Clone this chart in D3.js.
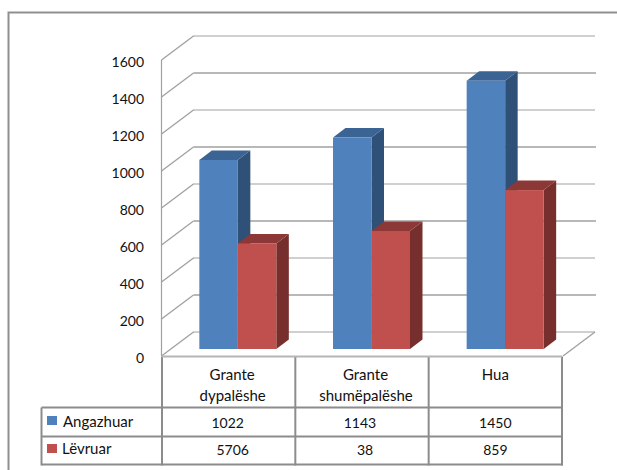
<!DOCTYPE html>
<html><head><meta charset="utf-8">
<script src="https://cdn.jsdelivr.net/npm/d3@7"></script>
<style>html,body{margin:0;padding:0;background:#fff}svg{display:block}text{font-family:Lato,"Open Sans",sans-serif;font-size:14px;fill:#111}text.w{font-size:15px}</style>
</head><body><svg id="c" width="617" height="470"></svg>
<script>
const categories = ["Grante dypalëshe","Grante shumëpalëshe","Hua"];
const catLines = [["Grante","dypalëshe"],["Grante","shumëpalëshe"],["Hua"]];
const seriesNames = ["Angazhuar","Lëvruar"];
const angazhuar = [1022,1143,1450];
const levruar = [570.6,638,859];
const tableAngazhuar = ["1022","1143","1450"];
const tableLevruar = ["5706","38","859"];
const yTicks = [0,200,400,600,800,1000,1200,1400,1600];
const labelNudgeCat = [4,4,0], valueNudgeA = [-1,-2,0], valueNudgeB = [4,3,0];

const svg = d3.select("#c");
const GR = "#a0a0a0", TB = "#8c8c8c";
const DX = 32, DY = -24, BDX = 12.5, BDY = -9.5;
const y = d3.scaleLinear().domain([0,1600]).range([356,60]);
const wall = {l:161.5, r:563};
const barBase = 349;
const yb = v => y(v) - (356 - barBase);
const xBand = d3.scaleBand().domain(categories).range([171,572]).paddingInner(.424).paddingOuter(.212);
const xSub = d3.scaleBand().domain(seriesNames).range([0,xBand.bandwidth()]);
const colors = d3.scaleOrdinal().domain(seriesNames).range(["#4f81bd","#c0504d"]);
const tops = d3.scaleOrdinal().domain(seriesNames).range(["#3b6494","#8c3836"]);
const sides = d3.scaleOrdinal().domain(seriesNames).range(["#2f5077","#772f2d"]);

// outer frame
svg.append("path").attr("d","M8.5,470V12.5H617").attr("fill","none").attr("stroke","#8f8f8f").attr("stroke-width",2);

// walls and gridlines
const g = svg.append("g");
yTicks.forEach((t,i)=>{
  const yy = y(t);
  const dotted = i%2===0;
  g.append("line").attr("x1",wall.l+DX).attr("x2",wall.r+DX-(dotted?0:-1)).attr("y1",yy+DY).attr("y2",yy+DY)
    .attr("stroke",GR).attr("stroke-width",dotted?2:1.5).attr("stroke-dasharray",dotted?"1 1":null);
  g.append("line").attr("x1",wall.l).attr("x2",wall.l+DX).attr("y1",yy).attr("y2",yy+DY)
    .attr("stroke",GR).attr("stroke-width",1.3);
});
g.append("line").attr("x1",wall.l).attr("x2",wall.l).attr("y1",y(1600)).attr("y2",y(0)).attr("stroke",GR).attr("stroke-width",1.2);
g.append("line").attr("x1",wall.r).attr("x2",wall.r+DX).attr("y1",y(0)).attr("y2",y(0)+DY)
  .attr("stroke",GR).attr("stroke-width",1.3);

// y axis
const ax = svg.append("g").attr("transform","translate(144,2)").call(d3.axisLeft(y).tickValues(yTicks).tickSize(0).tickPadding(0).tickFormat(d3.format("d")));
ax.select(".domain").remove();
ax.selectAll("text").attr("fill","#111").style("font-size","14px").style("font-family","Lato");

// bars
const bars = [];
categories.forEach((c,i)=>{
  bars.push({c,s:seriesNames[0],v:angazhuar[i]});
  bars.push({c,s:seriesNames[1],v:levruar[i]});
});
const bar = svg.append("g").selectAll("g").data(bars).join("g");
bar.append("path").attr("fill",d=>sides(d.s)).attr("d",d=>{
  const x1=xBand(d.c)+xSub(d.s)+xSub.bandwidth(), t=yb(d.v);
  return `M${x1},${t}L${x1+BDX},${t+BDY}V${barBase+BDY}L${x1},${barBase}Z`;
});
bar.append("path").attr("fill",d=>tops(d.s)).attr("d",d=>{
  const x0=xBand(d.c)+xSub(d.s), w=xSub.bandwidth(), t=yb(d.v);
  return `M${x0},${t}L${x0+BDX},${t+BDY}H${x0+w+BDX}L${x0+w},${t}Z`;
});
bar.append("rect").attr("x",d=>xBand(d.c)+xSub(d.s)).attr("width",xSub.bandwidth())
  .attr("y",d=>yb(d.v)).attr("height",d=>barBase-yb(d.v)).attr("fill",d=>colors(d.s));

// data table
const colX = d3.scalePoint().domain([0,1,2,3]).range([162,562]);
const rowTop = 356.5, rowH = 407.5, r1 = 436.5, r2 = 464.5, legL = 41.5;
const tg = svg.append("g").attr("stroke",TB).attr("stroke-width",2).attr("fill","none");
[0,1,2,3].forEach(k=>{
  tg.append("line").attr("x1",colX(k)).attr("x2",colX(k)).attr("y1",rowTop).attr("y2",r2+1);
});
tg.append("line").attr("x1",colX(0)).attr("x2",colX(3)).attr("y1",rowTop).attr("y2",rowTop).attr("stroke","#b5b5b5");
[rowH,r1,r2].forEach(v=>tg.append("line").attr("x1",legL).attr("x2",colX(3)+1).attr("y1",v).attr("y2",v));
tg.append("line").attr("x1",legL).attr("x2",legL).attr("y1",rowH).attr("y2",r2+1);

const cellC = i => (colX(i)+colX(i+1))/2;
catLines.forEach((ls,i)=>ls.forEach((l,j)=>{
  svg.append("text").attr("class","w").attr("x",cellC(i)+(j===0?(i===2?0:3.5):labelNudgeCat[i])).attr("y",380+j*21).attr("text-anchor","middle").text(l);
}));
tableAngazhuar.forEach((v,i)=>svg.append("text").attr("x",cellC(i)+valueNudgeA[i]).attr("y",428).attr("text-anchor","middle").text(v));
tableLevruar.forEach((v,i)=>svg.append("text").attr("x",cellC(i)+valueNudgeB[i]).attr("y",455).attr("text-anchor","middle").text(v));

seriesNames.forEach((s,i)=>{
  svg.append("rect").attr("x",47).attr("y",i?444:416).attr("width",10).attr("height",9).attr("fill",colors(s));
  svg.append("text").attr("class","w").attr("x",i?62:63).attr("y",i?454:426.5).text(s);
});
</script></body></html>
